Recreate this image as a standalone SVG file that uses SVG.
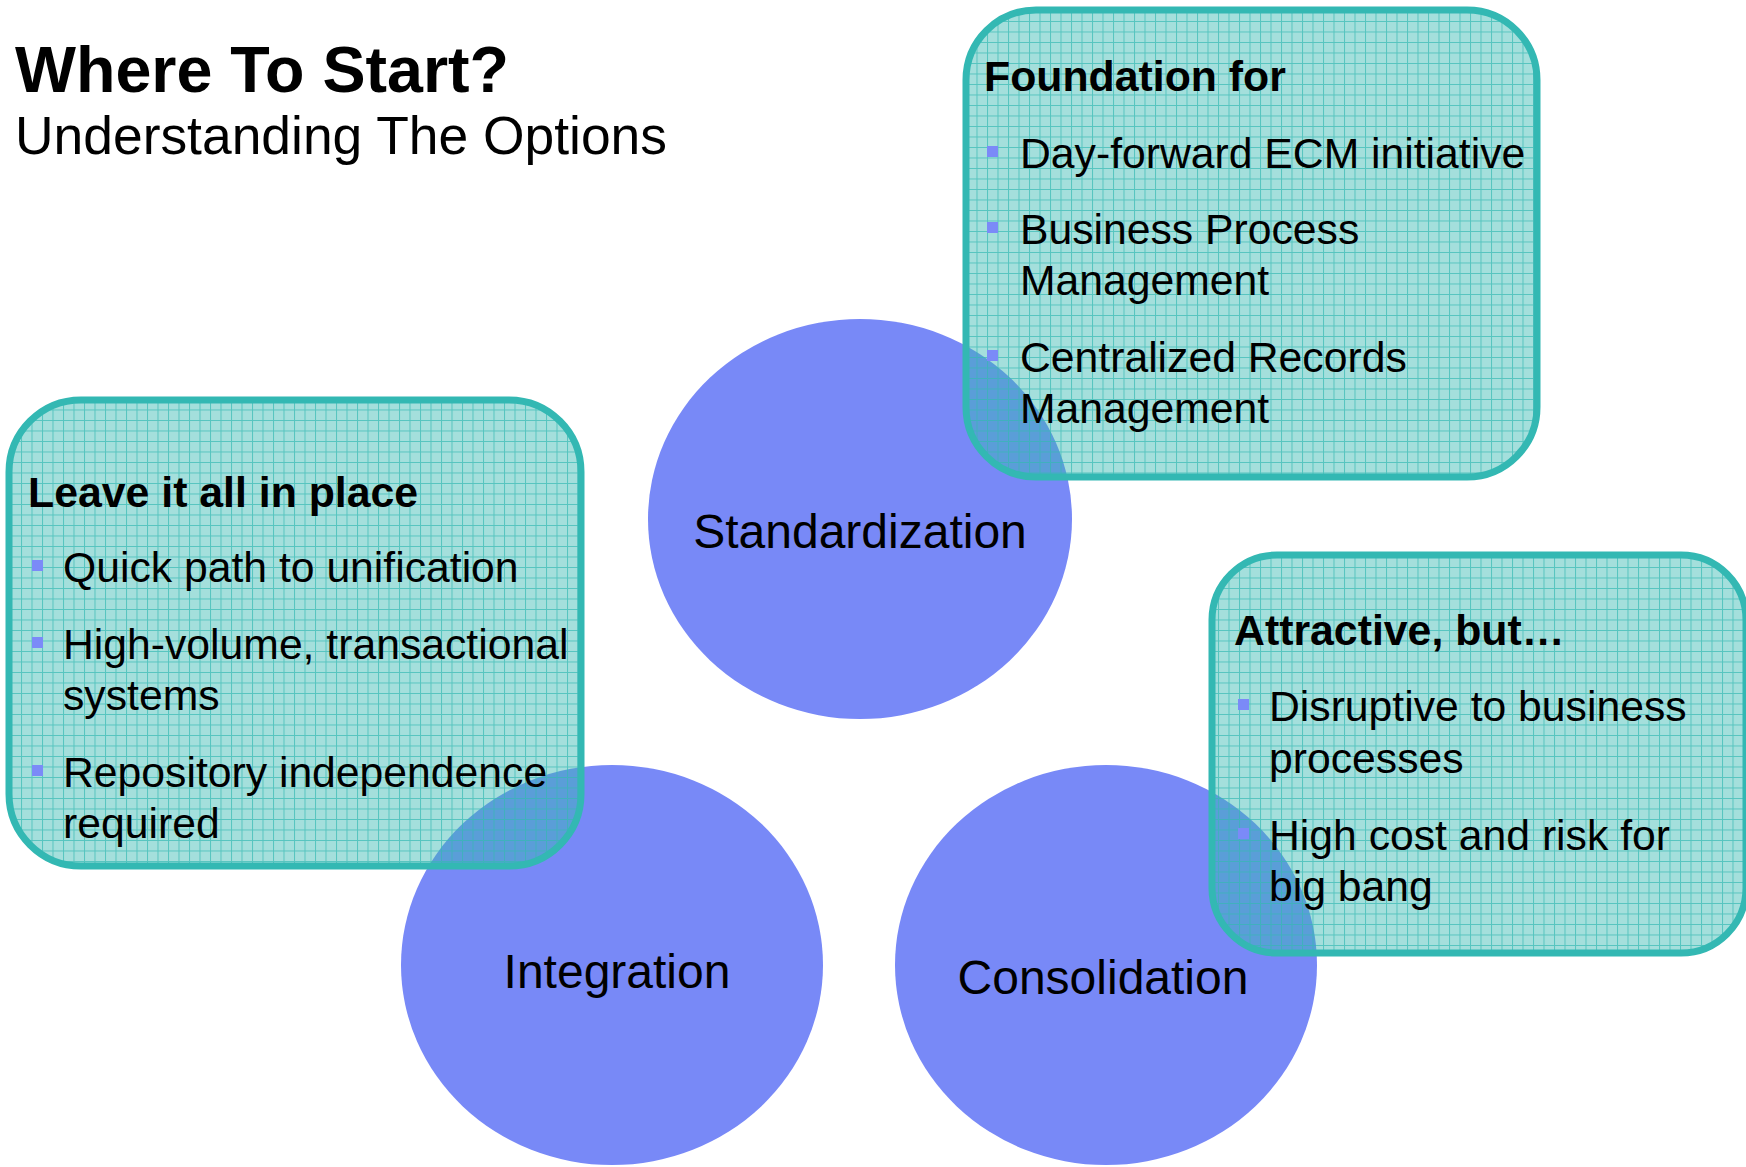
<svg xmlns="http://www.w3.org/2000/svg" width="1746" height="1167" viewBox="0 0 1746 1167">
<style>
.t{font-family:"Liberation Sans",Arial,sans-serif;fill:#000}
.h{font-size:42.8px;font-weight:bold}
.b{font-size:42.7px}
.c{font-size:48px;text-anchor:middle}
.circ{fill:#7889f7}
.box{fill:url(#grid);stroke:#33b8b3;stroke-width:7}
.bul{fill:#7b8af8}
</style>
<defs>
<pattern id="grid" patternUnits="userSpaceOnUse" width="10.5" height="10.5">
<rect width="10.5" height="10.5" fill="#35b8b2" fill-opacity="0.45"/>
<path d="M0 0.5H10.5M0.5 0V10.5" stroke="#35b8b2" stroke-opacity="0.7" stroke-width="1" fill="none"/>
</pattern>
</defs>
<rect width="1746" height="1167" fill="#fff"/>
<g id="title">
<text class="t" x="15" y="92" font-size="64.6" font-weight="bold">Where To Start?</text>
<text class="t" x="15" y="154" font-size="53.4">Understanding The Options</text>
</g>
<g id="connectors"></g>
<g id="standardization">
<ellipse class="circ" cx="860" cy="519" rx="212" ry="200"/>
<text class="t c" x="860" y="548">Standardization</text>
</g>
<g id="integration">
<ellipse class="circ" cx="612" cy="965" rx="211" ry="200"/>
<text class="t c" x="617" y="988">Integration</text>
</g>
<g id="consolidation">
<ellipse class="circ" cx="1106" cy="965" rx="211" ry="200"/>
<text class="t c" x="1103" y="994">Consolidation</text>
</g>
<g id="box-foundation">
<rect class="box" x="966" y="10" width="571" height="467" rx="70" ry="70"/>
<text class="t h" x="984" y="91">Foundation for</text>
<rect class="bul" x="987" y="146" width="11" height="11"/>
<text class="t b" x="1020" y="168">Day-forward ECM initiative</text>
<rect class="bul" x="987" y="222" width="11" height="11"/>
<text class="t b" x="1020" y="244">Business Process</text>
<text class="t b" x="1020" y="295">Management</text>
<rect class="bul" x="987" y="350" width="11" height="11"/>
<text class="t b" x="1020" y="372">Centralized Records</text>
<text class="t b" x="1020" y="423">Management</text>
</g>
<g id="box-leave">
<rect class="box" x="9" y="400" width="572" height="466" rx="72" ry="72"/>
<text class="t h" x="28" y="507">Leave it all in place</text>
<rect class="bul" x="32" y="560" width="11" height="11"/>
<text class="t b" x="63" y="582">Quick path to unification</text>
<rect class="bul" x="32" y="637" width="11" height="11"/>
<text class="t b" x="63" y="659">High-volume, transactional</text>
<text class="t b" x="63" y="710">systems</text>
<rect class="bul" x="32" y="765" width="11" height="11"/>
<text class="t b" x="63" y="787">Repository independence</text>
<text class="t b" x="63" y="838">required</text>
</g>
<g id="box-attractive">
<rect class="box" x="1212" y="555" width="534" height="398" rx="65" ry="65"/>
<text class="t h" x="1234" y="645">Attractive, but…</text>
<rect class="bul" x="1238" y="699" width="11" height="11"/>
<text class="t b" x="1269" y="721">Disruptive to business</text>
<text class="t b" x="1269" y="773">processes</text>
<rect class="bul" x="1238" y="828" width="11" height="11"/>
<text class="t b" x="1269" y="850">High cost and risk for</text>
<text class="t b" x="1269" y="901">big bang</text>
</g>
</svg>
